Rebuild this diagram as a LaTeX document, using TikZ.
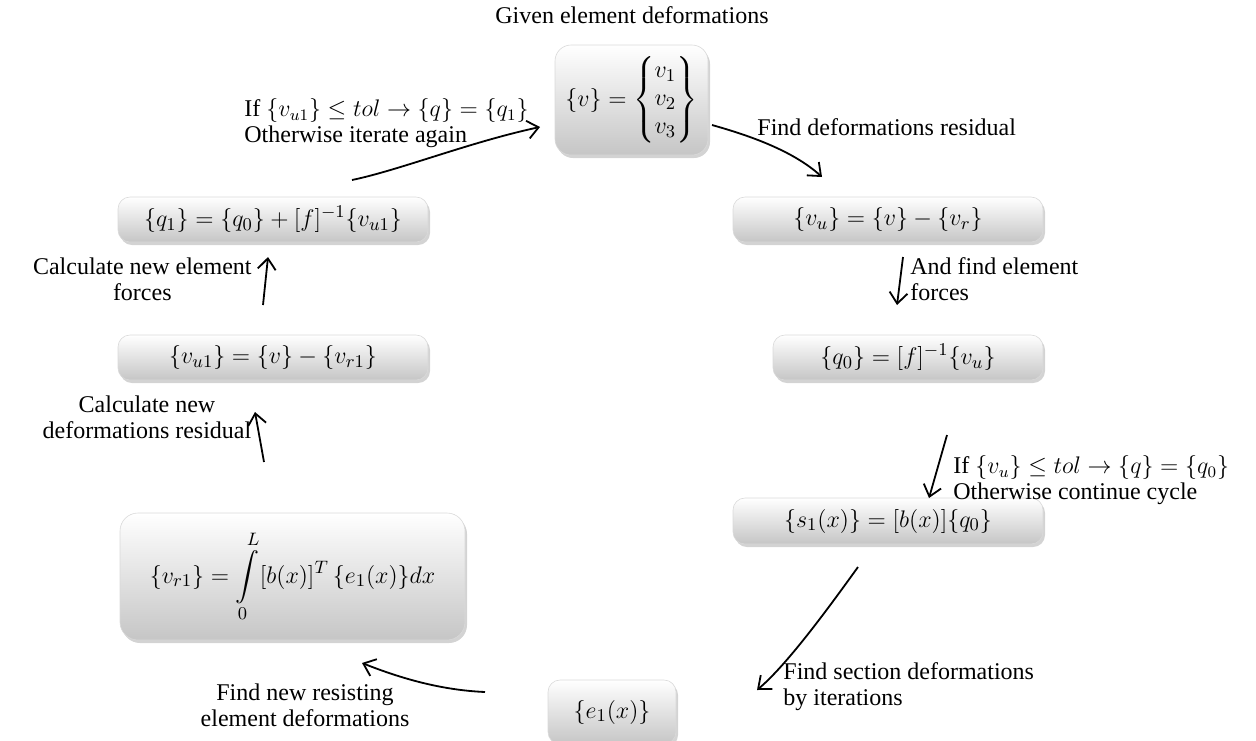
\documentclass[tikz,border=0pt]{standalone}
\usepackage{amsmath}
\usepackage{fontspec}
\setmainfont{Liberation Serif}
\usetikzlibrary{arrows.meta,shadows}
\begin{document}
\begin{tikzpicture}[x=0.5pt,y=-0.5pt,
  box/.style={draw=gray!30, line width=0.3pt, rounded corners=6pt,
    top color=white, bottom color=gray!45,
    drop shadow={shadow xshift=1pt, shadow yshift=-1.5pt, opacity=0.35},
    inner sep=0pt, font=\fontsize{12.8}{14}\selectfont},
  lbl/.style={font=\fontsize{12}{13}\selectfont, inner sep=0pt, align=left},
  arr/.style={line width=0.9pt, -{Straight Barb[length=5.5pt,width=9pt,line width=0.9pt]}}]
\useasboundingbox (0,0) rectangle (1256,740);

% boxes
\node[box, rounded corners=8pt, minimum width=76.5pt, minimum height=55pt] (v) at (631.5,100)
  {$\{v\}=\left\{\begin{matrix}v_1\\ v_2\\ v_3\end{matrix}\right\}$};
\node[box, minimum width=155pt, minimum height=22.5pt] (q1) at (273,219.5)
  {$\{q_1\}=\{q_0\}+[f]^{-1}\{v_{u1}\}$};
\node[box, minimum width=155pt, minimum height=22.5pt] (vu) at (888,219.5)
  {$\{v_u\}=\{v\}-\{v_r\}$};
\node[box, minimum width=155pt, minimum height=22.5pt] (vu1) at (273,357.5)
  {$\{v_{u1}\}=\{v\}-\{v_{r1}\}$};
\node[box, minimum width=135pt, minimum height=22.5pt] (q0) at (908,357.5)
  {$\{q_0\}=[f]^{-1}\{v_u\}$};
\node[box, minimum width=155pt, minimum height=23pt] (s1) at (888,521)
  {$\{s_1(x)\}=[b(x)]\{q_0\}$};
\node[box, rounded corners=9pt, minimum width=172.5pt, minimum height=63.5pt] (vr1) at (292.5,576.5)
  {$\{v_{r1}\}=\displaystyle\int\limits_0^L[b(x)]^T\,\{e_1(x)\}dx$};
\node[box, minimum width=64pt, minimum height=32pt] (e1) at (612,712)
  {$\{e_1(x)\}$};

% labels
\node[lbl, anchor=center] (title) at (632,15) {Given element deformations};
\node[lbl, anchor=west] (ifq1) at (244,123)
  {If $\{v_{u1}\}\le tol\to\{q\}=\{q_1\}$\\Otherwise iterate again};
\node[lbl, anchor=west] (findres) at (757,127) {Find deformations residual};
\node[lbl, anchor=west] (andfind) at (910,279) {And find element\\forces};
\node[lbl, anchor=east, align=center] (calcforces) at (252,279) {Calculate new element\\forces};
\node[lbl, anchor=center, align=center] (calcres) at (147,417) {Calculate new\\deformations residual};
\node[lbl, anchor=west] (ifq0) at (953,480)
  {If $\{v_u\}\le tol\to\{q\}=\{q_0\}$\\Otherwise continue cycle};
\node[lbl, anchor=west] (findsec) at (783,687) {Find section deformations\\by iterations};
\node[lbl, anchor=center, align=center] (findnew) at (305,705) {Find new resisting\\element deformations};

% arrows
\coordinate (a1s) at (352,180); \coordinate (a1e) at (540,127);
\draw[arr] (a1s) .. controls (400,170) and (470,142) .. (a1e);
\coordinate (a2s) at (712,125); \coordinate (a2e) at (822,177);
\draw[arr] (a2s) .. controls (740,133) and (790,148) .. (a2e);
\coordinate (a3s) at (903,257); \coordinate (a3e) at (897,305);
\draw[arr] (a3s) -- (a3e);
\coordinate (a4s) at (263,305); \coordinate (a4e) at (268,257);
\draw[arr] (a4s) -- (a4e);
\coordinate (a5s) at (264,462); \coordinate (a5e) at (255,412);
\draw[arr] (a5s) -- (a5e);
\coordinate (a6s) at (947,435); \coordinate (a6e) at (929,498);
\draw[arr] (a6s) -- (a6e);
\coordinate (a7s) at (858,567); \coordinate (a7e) at (757,690);
\draw[arr] (a7s) .. controls (832,603) and (788,664) .. (a7e);
\coordinate (a8s) at (485,692); \coordinate (a8e) at (362,663);
\draw[arr] (a8s) .. controls (440,690) and (400,678) .. (a8e);
\end{tikzpicture}
\end{document}
